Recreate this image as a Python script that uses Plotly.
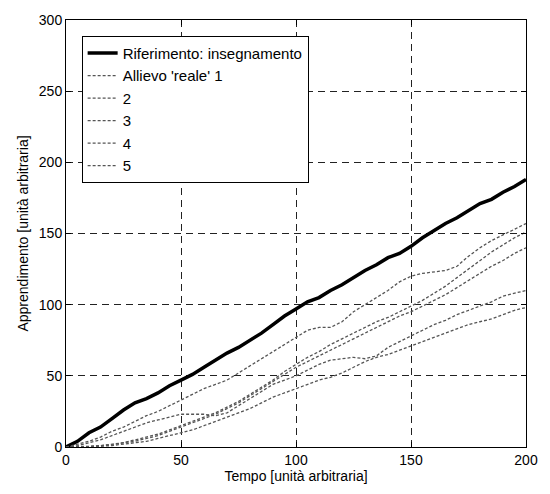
import plotly.graph_objects as go

# Tempo (unità arbitraria)
tempo = list(range(0, 205, 5))

# Curva di riferimento: insegnamento
riferimento = [0, 4, 10, 14, 20, 26, 31, 34, 38, 43, 47, 51, 56, 61, 66, 70, 75, 80, 86, 92,
               97, 102, 105, 110, 114, 119, 124, 128, 133, 136, 141, 147, 152, 157, 161, 166,
               171, 174, 179, 183, 188]

# Allievi 'reali'
allievo_1 = [0, 2, 4, 7, 11, 14, 18, 22, 25, 29, 33, 37, 41, 44, 47, 52, 57, 62, 67, 72,
             77, 82, 84, 84, 88, 95, 100, 105, 110, 116, 120, 122, 123, 124, 127, 134,
             140, 145, 149, 153, 157]
allievo_2 = [0, 0, 0.5, 1, 2, 3, 5, 7, 9, 12, 15, 18, 21, 24, 28, 32, 37, 42, 47, 53,
             58, 63, 67, 72, 76, 80, 84, 88, 91, 95, 99, 103, 108, 113, 119, 125,
             131, 137, 142, 147, 151]
allievo_3 = [0, 0, 0, 1, 1.5, 3, 4, 6, 8, 11, 14, 17, 20, 23, 27, 31, 36, 41, 46, 51,
             56, 60, 64, 68, 72, 76, 80, 84, 88, 92, 95, 99, 103, 107, 112, 117,
             122, 127, 131, 136, 140]
allievo_4 = [0, 1, 3, 5, 8, 11, 14, 17, 19, 21, 23, 23, 23, 22, 24, 29, 34, 39, 44, 47,
             50, 54, 58, 61, 62, 63, 62, 64, 70, 74, 78, 82, 86, 89, 93, 96,
             99, 102, 106, 108, 110]
allievo_5 = [0, 0, 0, 0.5, 1, 2, 3, 4, 6, 8, 10, 12, 15, 18, 21, 24, 27, 31, 35, 38,
             41, 44, 47, 49, 52, 56, 60, 63, 65, 68, 71, 74, 77, 80, 83, 86,
             88, 90, 93, 96, 98]

allievi = [allievo_1, allievo_2, allievo_3, allievo_4, allievo_5]
nomi_allievi = ["Allievo 'reale' 1", "2", "3", "4", "5"]

x_ticks = [0, 50, 100, 150, 200]
y_ticks = [0, 50, 100, 150, 200, 250, 300]

font_family = "Arial, Liberation Sans, sans-serif"

fig = go.Figure()

fig.add_trace(go.Scatter(
    x=tempo, y=riferimento, mode="lines", name="Riferimento: insegnamento",
    line=dict(color="black", width=3.5),
))

for serie, nome in zip(allievi, nomi_allievi):
    fig.add_trace(go.Scatter(
        x=tempo, y=serie, mode="lines", name=nome,
        line=dict(color="#555555", width=1.3, dash="3px,2px"),
    ))

asse = dict(
    showline=True, linecolor="black", linewidth=1, mirror="ticks",
    ticks="inside", ticklen=5, tickcolor="black", tickwidth=1,
    showgrid=True, gridcolor="#222222", gridwidth=1, griddash="7px,5px",
    zeroline=False, tickfont=dict(size=14, color="black"),
)

fig.update_xaxes(
    **asse, range=[0, 200], tickvals=x_ticks,
    title=dict(text="Tempo [unità arbitraria]", font=dict(size=14, color="black"), standoff=4),
)
fig.update_yaxes(
    **asse, range=[0, 300], tickvals=y_ticks,
    title=dict(text="Apprendimento [unità arbitraria]", font=dict(size=14, color="black"), standoff=6),
)

fig.update_layout(
    width=550, height=494,
    margin=dict(l=66, r=17, t=18, b=46),
    paper_bgcolor="white", plot_bgcolor="white",
    font=dict(family=font_family, size=14, color="black"),
    showlegend=True,
    legend=dict(
        x=0.034, y=0.963, xanchor="left", yanchor="top",
        bgcolor="white", bordercolor="black", borderwidth=1,
        font=dict(size=15, color="black"),
        itemwidth=30,
    ),
)

fig.write_html("out.html")
